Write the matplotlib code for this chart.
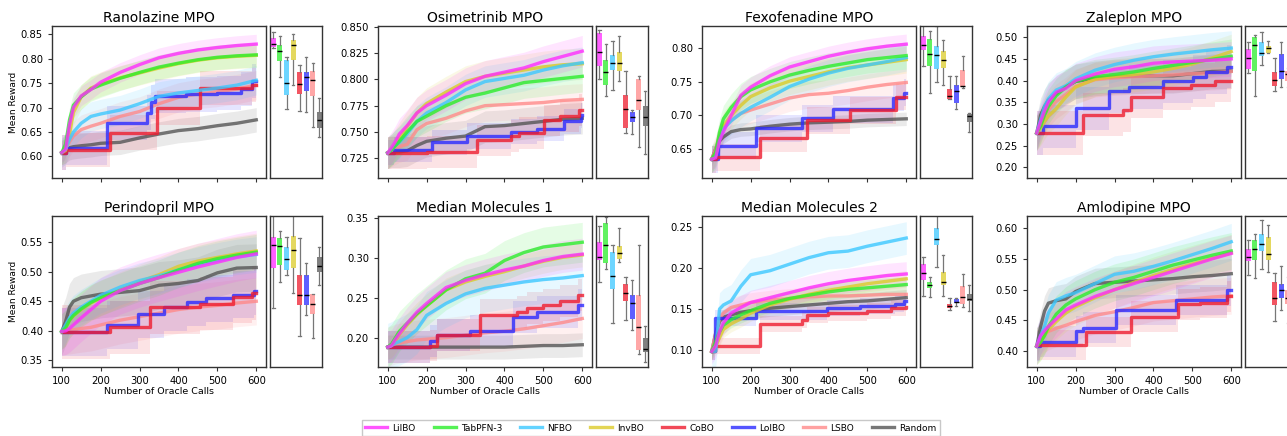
import matplotlib
matplotlib.use('Agg')
import matplotlib.pyplot as plt
from matplotlib.lines import Line2D
from matplotlib.ticker import MultipleLocator

# Metodos y colores
methods = ['LilBO', 'TabPFN-3', 'NFBO', 'InvBO', 'CoBO', 'LolBO', 'LSBO', 'Random']
colors = ['#ff2bff', '#2bee2b', '#3cc8ff', '#dccb2a', '#ee1c2e', '#2a2aff', '#ff8a8a', '#555555']

# Rejilla comun para las curvas suaves
grid = [100, 110, 120, 130, 150, 175, 200, 250, 300, 350, 400, 450, 500, 550, 600]

# ---------------- Ranolazine MPO ----------------
ranolazine_curves = {
    'LilBO':    [0.608, 0.615, 0.665, 0.700, 0.724, 0.737, 0.752, 0.772, 0.788, 0.802, 0.811, 0.818, 0.823, 0.827, 0.830],
    'TabPFN-3': [0.608, 0.625, 0.675, 0.705, 0.722, 0.738, 0.746, 0.760, 0.772, 0.783, 0.791, 0.798, 0.803, 0.806, 0.808],
    'NFBO':     [0.608, 0.615, 0.635, 0.650, 0.668, 0.682, 0.687, 0.695, 0.708, 0.723, 0.730, 0.735, 0.740, 0.746, 0.756],
    'InvBO':    [0.608, 0.612, 0.645, 0.690, 0.722, 0.740, 0.748, 0.761, 0.771, 0.781, 0.790, 0.797, 0.802, 0.805, 0.807],
    'LSBO':     [0.608, 0.615, 0.630, 0.642, 0.655, 0.662, 0.668, 0.682, 0.692, 0.708, 0.721, 0.728, 0.732, 0.738, 0.746],
    'Random':   [0.608, 0.612, 0.618, 0.620, 0.622, 0.624, 0.627, 0.629, 0.638, 0.646, 0.653, 0.657, 0.663, 0.668, 0.675],
}
ranolazine_steps = {
    'CoBO':  ([100, 110, 225, 344, 455, 590, 600], [0.608, 0.613, 0.649, 0.700, 0.740, 0.746, 0.746]),
    'LolBO': ([100, 110, 217, 319, 330, 340, 420, 500, 560, 590, 600],
              [0.608, 0.618, 0.668, 0.690, 0.712, 0.724, 0.727, 0.730, 0.738, 0.755, 0.755]),
}
ranolazine_std = [0.020, 0.025, 0.030, 0.025, 0.035, 0.035, 0.030, 0.025]
ranolazine_box = [(0.821, 0.824, 0.830, 0.842, 0.855), (0.762, 0.796, 0.816, 0.828, 0.847),
                  (0.697, 0.726, 0.750, 0.798, 0.804), (0.746, 0.798, 0.828, 0.838, 0.850),
                  (0.693, 0.728, 0.748, 0.772, 0.787), (0.691, 0.734, 0.763, 0.772, 0.804),
                  (0.661, 0.723, 0.757, 0.775, 0.792), (0.639, 0.658, 0.674, 0.692, 0.719)]

# ---------------- Osimetrinib MPO ----------------
osimetrinib_curves = {
    'LilBO':    [0.730, 0.735, 0.741, 0.748, 0.756, 0.768, 0.775, 0.785, 0.796, 0.803, 0.807, 0.811, 0.817, 0.822, 0.827],
    'TabPFN-3': [0.730, 0.733, 0.737, 0.741, 0.750, 0.760, 0.765, 0.775, 0.783, 0.787, 0.792, 0.797, 0.799, 0.801, 0.803],
    'NFBO':     [0.730, 0.733, 0.737, 0.740, 0.748, 0.760, 0.768, 0.778, 0.790, 0.798, 0.801, 0.804, 0.809, 0.813, 0.816],
    'InvBO':    [0.730, 0.733, 0.738, 0.744, 0.755, 0.768, 0.777, 0.788, 0.798, 0.803, 0.806, 0.809, 0.812, 0.814, 0.815],
    'LSBO':     [0.730, 0.732, 0.734, 0.736, 0.738, 0.752, 0.758, 0.763, 0.770, 0.775, 0.776, 0.777, 0.778, 0.780, 0.781],
    'Random':   [0.730, 0.731, 0.731, 0.731, 0.732, 0.737, 0.741, 0.744, 0.746, 0.755, 0.756, 0.758, 0.760, 0.762, 0.763],
}
osimetrinib_steps = {
    'CoBO':  ([100, 200, 330, 416, 437, 501, 544, 591, 600], [0.730, 0.731, 0.742, 0.746, 0.749, 0.761, 0.765, 0.771, 0.771]),
    'LolBO': ([100, 115, 214, 304, 416, 484, 553, 596, 600], [0.730, 0.733, 0.740, 0.746, 0.750, 0.753, 0.760, 0.766, 0.766]),
}
osimetrinib_std = [0.015, 0.015, 0.015, 0.015, 0.015, 0.012, 0.015, 0.015]
osimetrinib_box = [(0.800, 0.813, 0.826, 0.844, 0.8475), (0.784, 0.795, 0.807, 0.819, 0.834),
                   (0.790, 0.809, 0.816, 0.823, 0.837), (0.799, 0.808, 0.816, 0.826, 0.841),
                   (0.749, 0.754, 0.772, 0.785, 0.808), (0.748, 0.759, 0.764, 0.769, 0.771),
                   (0.736, 0.771, 0.780, 0.800, 0.803), (0.729, 0.756, 0.764, 0.775, 0.789)]

# ---------------- Fexofenadine MPO ----------------
fexofenadine_curves = {
    'LilBO':    [0.635, 0.637, 0.662, 0.676, 0.700, 0.730, 0.742, 0.759, 0.772, 0.780, 0.788, 0.794, 0.799, 0.803, 0.806],
    'TabPFN-3': [0.635, 0.645, 0.675, 0.695, 0.712, 0.728, 0.738, 0.750, 0.760, 0.767, 0.773, 0.778, 0.783, 0.786, 0.789],
    'NFBO':     [0.635, 0.640, 0.665, 0.680, 0.692, 0.703, 0.712, 0.727, 0.743, 0.754, 0.763, 0.770, 0.775, 0.780, 0.786],
    'InvBO':    [0.635, 0.640, 0.665, 0.685, 0.700, 0.715, 0.728, 0.741, 0.751, 0.758, 0.765, 0.771, 0.775, 0.779, 0.783],
    'LSBO':     [0.635, 0.650, 0.670, 0.682, 0.693, 0.703, 0.708, 0.717, 0.726, 0.731, 0.733, 0.737, 0.742, 0.746, 0.749],
    'Random':   [0.635, 0.650, 0.662, 0.668, 0.676, 0.679, 0.680, 0.684, 0.687, 0.689, 0.690, 0.691, 0.693, 0.694, 0.695],
}
fexofenadine_steps = {
    'CoBO':  ([100, 110, 224, 344, 455, 574, 600], [0.635, 0.638, 0.666, 0.693, 0.708, 0.728, 0.728]),
    'LolBO': ([100, 115, 215, 331, 412, 566, 595, 600], [0.635, 0.655, 0.681, 0.696, 0.709, 0.726, 0.734, 0.734]),
}
fexofenadine_std = [0.015, 0.020, 0.020, 0.020, 0.020, 0.020, 0.020, 0.010]
fexofenadine_box = [(0.773, 0.797, 0.805, 0.818, 0.835), (0.733, 0.773, 0.792, 0.813, 0.825),
                    (0.749, 0.769, 0.790, 0.803, 0.833), (0.746, 0.770, 0.783, 0.796, 0.812),
                    (0.724, 0.725, 0.729, 0.739, 0.758), (0.709, 0.719, 0.736, 0.746, 0.758),
                    (0.741, 0.742, 0.744, 0.768, 0.789), (0.675, 0.690, 0.699, 0.702, 0.704)]

# ---------------- Zaleplon MPO ----------------
zaleplon_curves = {
    'LilBO':    [0.279, 0.305, 0.330, 0.350, 0.373, 0.382, 0.400, 0.415, 0.426, 0.432, 0.440, 0.443, 0.445, 0.447, 0.450],
    'TabPFN-3': [0.279, 0.295, 0.320, 0.340, 0.365, 0.385, 0.398, 0.409, 0.414, 0.420, 0.428, 0.435, 0.442, 0.449, 0.456],
    'NFBO':     [0.279, 0.310, 0.340, 0.358, 0.378, 0.388, 0.404, 0.424, 0.437, 0.447, 0.455, 0.461, 0.466, 0.471, 0.475],
    'InvBO':    [0.279, 0.290, 0.305, 0.318, 0.335, 0.362, 0.385, 0.403, 0.410, 0.414, 0.420, 0.428, 0.438, 0.452, 0.467],
    'LSBO':     [0.279, 0.300, 0.318, 0.332, 0.352, 0.368, 0.387, 0.402, 0.406, 0.409, 0.411, 0.413, 0.416, 0.418, 0.421],
    'Random':   [0.279, 0.320, 0.340, 0.355, 0.370, 0.386, 0.398, 0.405, 0.409, 0.410, 0.411, 0.411, 0.416, 0.421, 0.422],
}
zaleplon_steps = {
    'CoBO':  ([100, 218, 321, 343, 424, 497, 557, 600], [0.279, 0.321, 0.332, 0.363, 0.382, 0.390, 0.400, 0.400]),
    'LolBO': ([100, 115, 201, 287, 338, 424, 501, 536, 590, 600],
              [0.279, 0.294, 0.336, 0.375, 0.385, 0.398, 0.408, 0.420, 0.432, 0.432]),
}
zaleplon_std = [0.040, 0.040, 0.040, 0.040, 0.050, 0.050, 0.040, 0.040]
zaleplon_box = [(0.418, 0.427, 0.453, 0.472, 0.490), (0.365, 0.423, 0.482, 0.500, 0.505),
                (0.436, 0.457, 0.463, 0.490, 0.511), (0.463, 0.463, 0.475, 0.480, 0.492),
                (0.377, 0.388, 0.402, 0.419, 0.453), (0.386, 0.404, 0.423, 0.461, 0.488),
                (0.385, 0.399, 0.415, 0.421, 0.428), (0.400, 0.410, 0.420, 0.430, 0.440)]

# ---------------- Perindopril MPO ----------------
perindopril_curves = {
    'LilBO':    [0.399, 0.400, 0.404, 0.410, 0.422, 0.436, 0.450, 0.468, 0.480, 0.490, 0.499, 0.508, 0.516, 0.524, 0.530],
    'TabPFN-3': [0.399, 0.405, 0.418, 0.426, 0.437, 0.448, 0.456, 0.468, 0.480, 0.490, 0.503, 0.514, 0.522, 0.528, 0.533],
    'NFBO':     [0.399, 0.410, 0.422, 0.430, 0.440, 0.450, 0.460, 0.474, 0.485, 0.493, 0.503, 0.512, 0.519, 0.525, 0.529],
    'InvBO':    [0.399, 0.405, 0.418, 0.425, 0.436, 0.447, 0.455, 0.470, 0.483, 0.495, 0.509, 0.518, 0.524, 0.530, 0.535],
    'LSBO':     [0.399, 0.400, 0.401, 0.402, 0.404, 0.406, 0.410, 0.418, 0.424, 0.430, 0.436, 0.440, 0.443, 0.447, 0.450],
    'Random':   [0.399, 0.416, 0.440, 0.450, 0.456, 0.459, 0.462, 0.465, 0.468, 0.477, 0.480, 0.485, 0.498, 0.506, 0.507],
}
perindopril_steps = {
    'CoBO':  ([100, 225, 327, 455, 540, 590, 600], [0.398, 0.406, 0.440, 0.446, 0.458, 0.464, 0.464]),
    'LolBO': ([100, 217, 297, 362, 421, 472, 540, 595, 600], [0.398, 0.410, 0.428, 0.440, 0.448, 0.455, 0.461, 0.467, 0.467]),
}
perindopril_std = [0.040, 0.030, 0.030, 0.030, 0.045, 0.040, 0.040, 0.040]
perindopril_box = [(0.439, 0.506, 0.545, 0.558, 0.596), (0.482, 0.512, 0.544, 0.557, 0.569),
                   (0.495, 0.502, 0.522, 0.541, 0.558), (0.464, 0.506, 0.537, 0.560, 0.596),
                   (0.391, 0.443, 0.460, 0.495, 0.557), (0.426, 0.443, 0.460, 0.495, 0.515),
                   (0.388, 0.428, 0.445, 0.462, 0.463), (0.477, 0.500, 0.509, 0.524, 0.542)]

# ---------------- Median Molecules 1 ----------------
median1_curves = {
    'LilBO':    [0.188, 0.190, 0.198, 0.205, 0.218, 0.232, 0.243, 0.263, 0.272, 0.279, 0.285, 0.290, 0.297, 0.302, 0.305],
    'TabPFN-3': [0.188, 0.192, 0.200, 0.208, 0.218, 0.230, 0.240, 0.260, 0.274, 0.281, 0.297, 0.307, 0.314, 0.317, 0.320],
    'NFBO':     [0.188, 0.190, 0.193, 0.195, 0.200, 0.210, 0.228, 0.243, 0.255, 0.262, 0.266, 0.270, 0.273, 0.275, 0.278],
    'InvBO':    [0.188, 0.190, 0.196, 0.204, 0.216, 0.229, 0.240, 0.260, 0.270, 0.277, 0.283, 0.290, 0.296, 0.301, 0.304],
    'LSBO':     [0.188, 0.190, 0.192, 0.193, 0.195, 0.197, 0.198, 0.200, 0.203, 0.206, 0.208, 0.211, 0.215, 0.219, 0.224],
    'Random':   [0.188, 0.188, 0.188, 0.188, 0.188, 0.188, 0.188, 0.188, 0.188, 0.188, 0.188, 0.189, 0.190, 0.190, 0.191],
}
median1_steps = {
    'CoBO':  ([100, 209, 226, 338, 432, 457, 500, 543, 590, 600],
              [0.188, 0.190, 0.203, 0.228, 0.232, 0.237, 0.241, 0.246, 0.254, 0.254]),
    'LolBO': ([100, 209, 226, 312, 423, 483, 590, 600], [0.188, 0.196, 0.203, 0.208, 0.226, 0.232, 0.241, 0.241]),
}
median1_std = [0.020, 0.025, 0.030, 0.015, 0.020, 0.020, 0.025, 0.015]
median1_box = [(0.270, 0.298, 0.301, 0.320, 0.341), (0.286, 0.294, 0.317, 0.344, 0.352),
               (0.218, 0.261, 0.277, 0.308, 0.316), (0.295, 0.299, 0.307, 0.315, 0.338),
               (0.222, 0.246, 0.256, 0.267, 0.276), (0.210, 0.223, 0.243, 0.254, 0.272),
               (0.179, 0.185, 0.213, 0.253, 0.316), (0.169, 0.182, 0.186, 0.200, 0.215)]

# ---------------- Median Molecules 2 ----------------
median2_curves = {
    'LilBO':    [0.098, 0.105, 0.122, 0.133, 0.145, 0.152, 0.158, 0.164, 0.170, 0.176, 0.181, 0.185, 0.188, 0.191, 0.193],
    'TabPFN-3': [0.098, 0.110, 0.122, 0.130, 0.137, 0.143, 0.148, 0.157, 0.163, 0.167, 0.171, 0.174, 0.176, 0.178, 0.180],
    'NFBO':     [0.098, 0.098, 0.150, 0.155, 0.160, 0.178, 0.192, 0.197, 0.205, 0.213, 0.219, 0.221, 0.227, 0.232, 0.237],
    'InvBO':    [0.098, 0.104, 0.115, 0.125, 0.132, 0.138, 0.145, 0.155, 0.162, 0.168, 0.173, 0.177, 0.181, 0.184, 0.187],
    'LSBO':     [0.098, 0.120, 0.138, 0.145, 0.152, 0.155, 0.158, 0.161, 0.163, 0.165, 0.166, 0.166, 0.167, 0.168, 0.168],
    'Random':   [0.098, 0.120, 0.135, 0.140, 0.143, 0.146, 0.148, 0.151, 0.153, 0.155, 0.157, 0.159, 0.160, 0.162, 0.164],
}
median2_steps = {
    'CoBO':  ([100, 109, 224, 331, 344, 400, 500, 560, 600], [0.098, 0.105, 0.132, 0.137, 0.143, 0.145, 0.148, 0.151, 0.153]),
    'LolBO': ([100, 108, 215, 395, 480, 570, 595, 600], [0.098, 0.139, 0.147, 0.151, 0.154, 0.156, 0.160, 0.160]),
}
median2_std = [0.015, 0.010, 0.020, 0.010, 0.010, 0.010, 0.012, 0.010]
median2_box = [(0.166, 0.185, 0.194, 0.205, 0.214), (0.165, 0.176, 0.180, 0.183, 0.189),
               (0.201, 0.229, 0.236, 0.249, 0.266), (0.166, 0.179, 0.183, 0.195, 0.216),
               (0.149, 0.151, 0.154, 0.156, 0.164), (0.154, 0.157, 0.159, 0.162, 0.163),
               (0.152, 0.156, 0.165, 0.178, 0.193), (0.148, 0.160, 0.162, 0.169, 0.179)]

# ---------------- Amlodipine MPO ----------------
amlodipine_curves = {
    'LilBO':    [0.408, 0.425, 0.433, 0.440, 0.452, 0.467, 0.475, 0.489, 0.500, 0.510, 0.520, 0.530, 0.540, 0.550, 0.559],
    'TabPFN-3': [0.408, 0.415, 0.425, 0.440, 0.460, 0.475, 0.485, 0.500, 0.512, 0.520, 0.530, 0.540, 0.548, 0.556, 0.563],
    'NFBO':     [0.408, 0.425, 0.440, 0.462, 0.483, 0.490, 0.495, 0.510, 0.525, 0.530, 0.538, 0.547, 0.557, 0.567, 0.578],
    'InvBO':    [0.408, 0.415, 0.425, 0.435, 0.448, 0.462, 0.472, 0.487, 0.500, 0.512, 0.523, 0.533, 0.542, 0.551, 0.560],
    'LSBO':     [0.408, 0.420, 0.428, 0.432, 0.437, 0.442, 0.448, 0.458, 0.464, 0.471, 0.479, 0.482, 0.485, 0.488, 0.490],
    'Random':   [0.408, 0.440, 0.465, 0.478, 0.482, 0.485, 0.497, 0.510, 0.512, 0.514, 0.516, 0.518, 0.521, 0.523, 0.526],
}
amlodipine_steps = {
    'CoBO':  ([100, 227, 343, 463, 520, 590, 600], [0.410, 0.431, 0.456, 0.476, 0.479, 0.489, 0.489]),
    'LolBO': ([100, 108, 201, 218, 304, 458, 590, 600], [0.408, 0.415, 0.432, 0.438, 0.467, 0.483, 0.499, 0.499]),
}
amlodipine_std = [0.030, 0.030, 0.030, 0.030, 0.025, 0.025, 0.030, 0.025]
amlodipine_box = [(0.524, 0.546, 0.553, 0.567, 0.581), (0.519, 0.549, 0.566, 0.581, 0.590),
                  (0.534, 0.563, 0.574, 0.590, 0.614), (0.529, 0.549, 0.558, 0.585, 0.605),
                  (0.449, 0.475, 0.486, 0.512, 0.527), (0.467, 0.487, 0.500, 0.510, 0.538),
                  (0.445, 0.476, 0.486, 0.500, 0.521), (0.490, 0.515, 0.525, 0.535, 0.550)]

panels = [
    ('Ranolazine MPO', ranolazine_curves, ranolazine_steps, ranolazine_std, ranolazine_box, (0.556, 0.867), 0.05),
    ('Osimetrinib MPO', osimetrinib_curves, osimetrinib_steps, osimetrinib_std, osimetrinib_box, (0.706, 0.851), 0.025),
    ('Fexofenadine MPO', fexofenadine_curves, fexofenadine_steps, fexofenadine_std, fexofenadine_box, (0.607, 0.833), 0.05),
    ('Zaleplon MPO', zaleplon_curves, zaleplon_steps, zaleplon_std, zaleplon_box, (0.175, 0.526), 0.05),
    ('Perindopril MPO', perindopril_curves, perindopril_steps, perindopril_std, perindopril_box, (0.339, 0.594), 0.05),
    ('Median Molecules 1', median1_curves, median1_steps, median1_std, median1_box, (0.163, 0.353), 0.05),
    ('Median Molecules 2', median2_curves, median2_steps, median2_std, median2_box, (0.079, 0.264), 0.05),
    ('Amlodipine MPO', amlodipine_curves, amlodipine_steps, amlodipine_std, amlodipine_box, (0.374, 0.620), 0.05),
]

W, H = 1287, 436
fig = plt.figure(figsize=(W / 100, H / 100), dpi=100)

lefts = [52, 378, 702, 1027]
rows_px = [(26, 178), (216, 367)]
spine_col = '#333333'

for k, (title, curves, steps, std, box, ylim, ystep) in enumerate(panels):
    r, c = divmod(k, 4)
    top, bot = rows_px[r]
    ax = fig.add_axes([lefts[c] / W, 1 - bot / H, 214 / W, (bot - top) / H])
    axb = fig.add_axes([(lefts[c] + 218) / W, 1 - bot / H, 52 / W, (bot - top) / H])

    # dibujar en orden inverso para que LilBO quede arriba
    for i in reversed(range(len(methods))):
        m = methods[i]
        if m in steps:
            xs, ys = steps[m]
            ax.fill_between(xs, [v - std[i] for v in ys], [v + std[i] for v in ys],
                            step='post', color=colors[i], alpha=0.12, lw=0)
            ax.plot(xs, ys, drawstyle='steps-post', color=colors[i], lw=2.4, alpha=0.8)
        else:
            ys = curves[m]
            ax.fill_between(grid, [v - std[i] for v in ys], [v + std[i] for v in ys],
                            color=colors[i], alpha=0.12, lw=0)
            ax.plot(grid, ys, color=colors[i], lw=2.4, alpha=0.8)

    ax.set_xlim(75, 625)
    ax.set_ylim(*ylim)
    ax.set_xticks([100, 200, 300, 400, 500, 600])
    ax.yaxis.set_major_locator(MultipleLocator(ystep))
    ax.set_title(title, fontsize=10, pad=3)
    ax.tick_params(axis='both', labelsize=7.2, length=3, width=0.8, color=spine_col)
    if r == 0:
        ax.tick_params(labelbottom=False)
    else:
        ax.set_xlabel('Number of Oracle Calls', fontsize=6.8, labelpad=1)
    if c == 0:
        ax.set_ylabel('Mean Reward', fontsize=6.5, labelpad=2)

    # boxplot lateral
    stats = [dict(whislo=b[0], q1=b[1], med=b[2], q3=b[3], whishi=b[4]) for b in box]
    bp = axb.bxp(stats, positions=range(1, 9), widths=0.75, showfliers=False, patch_artist=True,
                 medianprops=dict(color='black', lw=1.0),
                 whiskerprops=dict(color='#777777', lw=0.9),
                 capprops=dict(color='#777777', lw=0.9),
                 capwidths=0.35)
    for patch, col in zip(bp['boxes'], colors):
        patch.set_facecolor(col)
        patch.set_alpha(0.75)
        patch.set_edgecolor('none')
    axb.set_ylim(*ylim)
    axb.set_xlim(0.48, 8.42)
    axb.set_xticks([])
    axb.set_yticks([])

    for a in (ax, axb):
        for s in a.spines.values():
            s.set_color(spine_col)
            s.set_linewidth(1.0)

handles = [Line2D([0], [0], color=colors[i], lw=2.4, alpha=0.8) for i in range(len(methods))]
fig.legend(handles, methods, loc='center', bbox_to_anchor=(651 / W, 1 - 428 / H), ncol=8,
           fontsize=6.5, frameon=True, fancybox=False, edgecolor='#bbbbbb',
           handlelength=2.4, handletextpad=0.6, columnspacing=2.0, borderpad=0.4)

fig.savefig('out.png', dpi=100)
